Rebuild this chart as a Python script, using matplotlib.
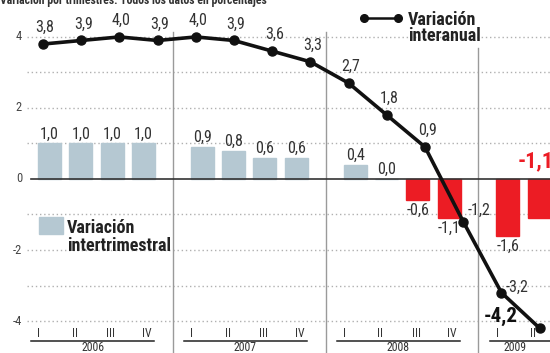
import numpy as np
import matplotlib
matplotlib.use('Agg')
import matplotlib.pyplot as plt
from matplotlib.patches import Rectangle

plt.rcParams['font.family'] = ['Roboto Condensed', 'PT Sans Narrow', 'DejaVu Sans']

years = ['2006', '2007', '2008', '2009']
quarters = ['I', 'II', 'III', 'IV']
n_quarters = [4, 4, 4, 2]

# variación interanual (línea) e intertrimestral (barras), en %
interanual = [3.8, 3.9, 4.0, 3.9, 4.0, 3.9, 3.6, 3.3, 2.7, 1.8, 0.9, -1.2, -3.2, -4.2]
intertrimestral = [1.0, 1.0, 1.0, 1.0, 0.9, 0.8, 0.6, 0.6, 0.4, 0.0, -0.6, -1.1, -1.6, -1.1]

BLUE = '#b5c8d2'
RED = '#ec1c24'
TXT = '#333333'
GRID = '#9a9a9a'

fig = plt.figure(figsize=(5.5, 3.53), dpi=100)
ax = fig.add_axes([0, 0, 1, 1])
ax.set_xlim(-1.126, 13.272)
ax.set_ylim(-4.90, 5.04)
ax.axis('off')


def py(p):
    # altura en píxeles desde arriba -> unidades del eje y
    return (179 - p) / 35.5


# posiciones: la línea va a paso fijo, las barras y rótulos se agrupan por año
line_x = np.arange(len(interanual))
bar_x, tick_x, year_of = [], [], []
for k, n in enumerate(n_quarters):
    for q in range(n):
        bar_x.append(4 * k + 1.4 + (q - 1.5) * 0.82)
        tick_x.append(4 * k + 1.3 + (q - 1.5) * 0.94)
        year_of.append(k)
bar_x = np.array(bar_x)
tick_x = np.array(tick_x)
year_of = np.array(year_of)

# rejilla punteada
x_left = -0.42
for y in range(-4, 5):
    if y != 0:
        ax.plot([x_left, 13.3], [y, y], color='#b0b0b0', lw=1,
                ls=(0, (1, 2)), zorder=1)
for y in [4, 2, 0, -2, -4]:
    ax.text(-0.55, y, f'{y}', ha='right', va='center', fontsize=9,
            color='#444444')

# separadores de año
for k in range(1, len(years)):
    xs = (bar_x[year_of == k - 1][-1] + bar_x[year_of == k][0]) / 2
    top = 3.7 if k == 3 else 4.15
    ax.plot([xs, xs], [-4.95, top], color=GRID, lw=1, zorder=1)

# barras
colors = [BLUE if v >= 0 else RED for v in intertrimestral]
ax.bar(bar_x, intertrimestral, width=0.6, color=colors, edgecolor=colors,
       linewidth=1, zorder=2)
for i, (x, v) in enumerate(zip(bar_x, intertrimestral)):
    lab = f'{v:.1f}'.replace('.', ',')
    if i == len(intertrimestral) - 1:
        ax.annotate(lab, (x, 0), xytext=(-22, 18), textcoords='offset pixels',
                    ha='left', va='center', fontsize=16, fontweight='bold',
                    color=RED)
    elif v >= 0:
        ax.annotate(lab, (x, v), xytext=(0, 2), textcoords='offset pixels',
                    ha='center', va='bottom', fontsize=11.5, color=TXT)
    else:
        ax.annotate(lab, (x, v), xytext=(0, -3), textcoords='offset pixels',
                    ha='center', va='top', fontsize=11.5, color=TXT)

# línea del cero
ax.plot([-0.31, 13.3], [0, 0], color='#333333', lw=1.2, zorder=3)

# línea interanual
ax.plot(line_x, interanual, color='#111111', lw=2.6, marker='o',
        markersize=6.5, zorder=4, solid_capstyle='round')
for i, (x, v) in enumerate(zip(line_x, interanual)):
    lab = f'{v:.1f}'.replace('.', ',')
    if i == len(interanual) - 1:
        ax.annotate(lab, (x, v), xytext=(-22, 12), textcoords='offset pixels',
                    ha='right', va='center', fontsize=15, fontweight='bold',
                    color='#111111')
    elif v < 0:
        ax.annotate(lab, (x, v), xytext=(4, 11 if i == 11 else 5),
                    textcoords='offset pixels', ha='left', va='center',
                    fontsize=11.5, color=TXT)
    else:
        ax.annotate(lab, (x, v), xytext=(2, 9), textcoords='offset pixels',
                    ha='center', va='bottom', fontsize=11.5, color=TXT)

# ejes de trimestres y años
for k, yr in enumerate(years):
    xs = tick_x[year_of == k]
    for q, x in enumerate(xs):
        ax.text(x, -4.35, quarters[q], ha='center', va='center', fontsize=8.5,
                color=TXT)
    x1 = xs[-1] + 0.2 if k < len(years) - 1 else 13.3
    ax.plot([xs[0] - 0.2, x1], [-4.57, -4.57], color='#222222', lw=1.1)
    ax.text(xs.mean(), -4.74, yr, ha='center', va='center', fontsize=8.5,
            color=TXT)

# leyendas
ax.plot([8.4, 9.3], [py(18), py(18)], color='#111111', lw=1.8, marker='o',
        markersize=5.5)
ax.text(9.55, py(25), 'Variación', ha='left', va='baseline',
        fontsize=13, fontweight='bold', color='#222222')
ax.text(9.55, py(41), 'interanual', ha='left', va='baseline',
        fontsize=13, fontweight='bold', color='#222222')
ax.add_patch(Rectangle((-0.1, py(234)), 0.62, py(217) - py(234), color=BLUE,
                       zorder=2))
ax.text(0.62, py(233), 'Variación', ha='left', va='baseline',
        fontsize=13, fontweight='bold', color='#222222')
ax.text(0.62, py(251), 'intertrimestral', ha='left', va='baseline',
        fontsize=13, fontweight='bold', color='#222222')

# subtítulo cortado arriba
ax.text(-1.126, 4.93, 'Variación por trimestres. Todos los datos en porcentajes',
        ha='left', va='baseline', fontsize=8.5, fontweight='bold', color=TXT)

fig.savefig('out.png', dpi=100)
